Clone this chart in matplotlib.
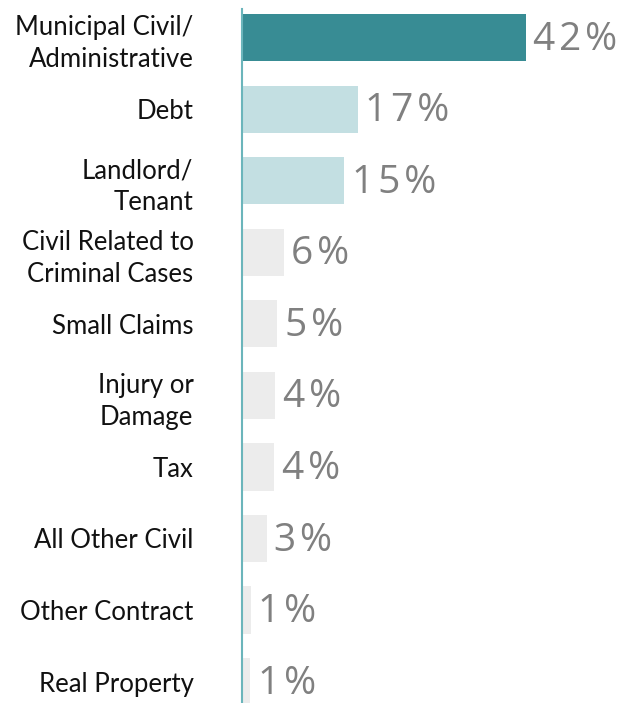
import matplotlib.pyplot as plt
import numpy as np

# case types and their share of filings
categories = ["Municipal Civil/\nAdministrative", "Debt", "Landlord/\nTenant",
              "Civil Related to\nCriminal Cases", "Small Claims", "Injury or\nDamage",
              "Tax", "All Other Civil", "Other Contract", "Real Property"]
shares = [42.0, 17.1, 15.1, 6.2, 5.2, 4.9, 4.8, 3.7, 1.3, 1.2]
share_labels = ["42%", "17%", "15%", "6%", "5%", "4%", "4%", "3%", "1%", "1%"]

bar_colors = ["#388c94", "#c3dfe2", "#c3dfe2"] + ["#ececec"] * 7

fig = plt.figure(figsize=(6.2, 7.03), dpi=100)
ax = fig.add_axes([242 / 620, 0, 1 - 242 / 620, (703 - 9) / 703])

y = np.arange(len(categories))
ax.barh(y, shares, height=0.66, color=bar_colors, zorder=2)

# value labels next to each bar (hair spaces give the wide tracking)
for yi, v, lab in zip(y, shares, share_labels):
    ax.text(v + 1.1, yi + 0.03, "\u200a".join(lab), va="center", ha="left", fontsize=28,
            color="#808080", family=["Open Sans", "DejaVu Sans"])

ax.set_xlim(0, 55.9)
ax.set_ylim(9.3, -0.4)
ax.set_yticks(y)
ax.set_yticklabels(categories, fontsize=18.5, family="Lato", color="#111111",
                   linespacing=1.35)
ax.tick_params(axis="y", length=0, pad=35)
ax.set_xticks([])

for side in ["top", "right", "bottom"]:
    ax.spines[side].set_visible(False)
ax.spines["left"].set_color("#6bb5bb")
ax.spines["left"].set_linewidth(1.5)

plt.savefig("out.png", dpi=100)
plt.close()
